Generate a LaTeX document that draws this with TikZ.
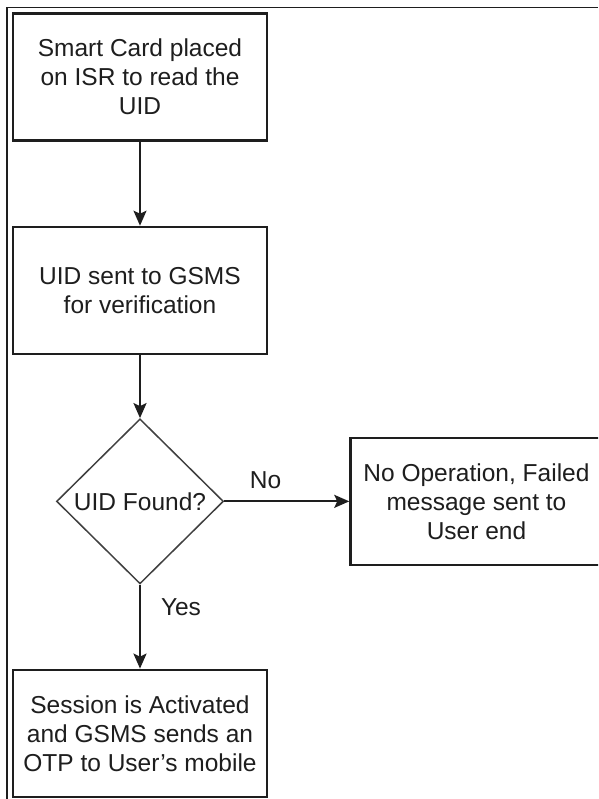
\documentclass[tikz,border=0pt]{standalone}
\usepackage{fontspec}
\setmainfont{Liberation Sans}
\usepackage{xcolor}
\usetikzlibrary{arrows.meta,positioning,shapes.geometric}
\definecolor{inkgray}{HTML}{1E1E1E}

\begin{document}
\begin{tikzpicture}[x=1pt,y=1pt,font=\fontsize{24.5}{29}\selectfont,
  stepbox/.style={draw=inkgray,line width=2.4pt,align=center,text=inkgray,
    minimum width=254pt,minimum height=127pt,inner sep=2pt},
  decide/.style={draw=inkgray!85,diamond,line width=1.5pt,text=inkgray,
    minimum width=167pt,minimum height=165pt,inner sep=0pt},
  ed/.style={-{Stealth[length=15pt,width=13pt,inset=3pt]},line width=2pt,draw=inkgray},
  lbl/.style={inner sep=0pt,text=inkgray}]
\useasboundingbox (0,0) rectangle (598,-799);
\clip (0,0) rectangle (598,-799);
\fill[white] (0,0) rectangle (598,-799);
% outer frame
\draw[inkgray,line width=1.4pt] (7,-799) -- (7,-7.5) -- (598,-7.5);
% steps
\node[stepbox] (card) at (140,-77) {Smart Card placed\\on ISR to read the\\UID};
\node[stepbox,below=84pt of card] (verify) {UID sent to GSMS\\for verification};
\node[decide,below=63pt of verify] (found) {UID Found?};
\node[stepbox,minimum width=252pt,right=125pt of found] (fail)
  {No Operation, Failed\\message sent to\\User end};
\node[stepbox,below=84pt of found] (session)
  {Session is Activated\\and GSMS sends an\\OTP to User’s mobile};
% connectors
\draw[ed] (card) -- (verify);
\draw[ed] (verify) -- (found);
\draw[ed] (found) -- node[lbl,above=12pt,pos=0.33] {No} (fail);
\draw[ed] (found) -- node[lbl,right=20pt,pos=0.27] {Yes} (session);
\end{tikzpicture}
\end{document}
